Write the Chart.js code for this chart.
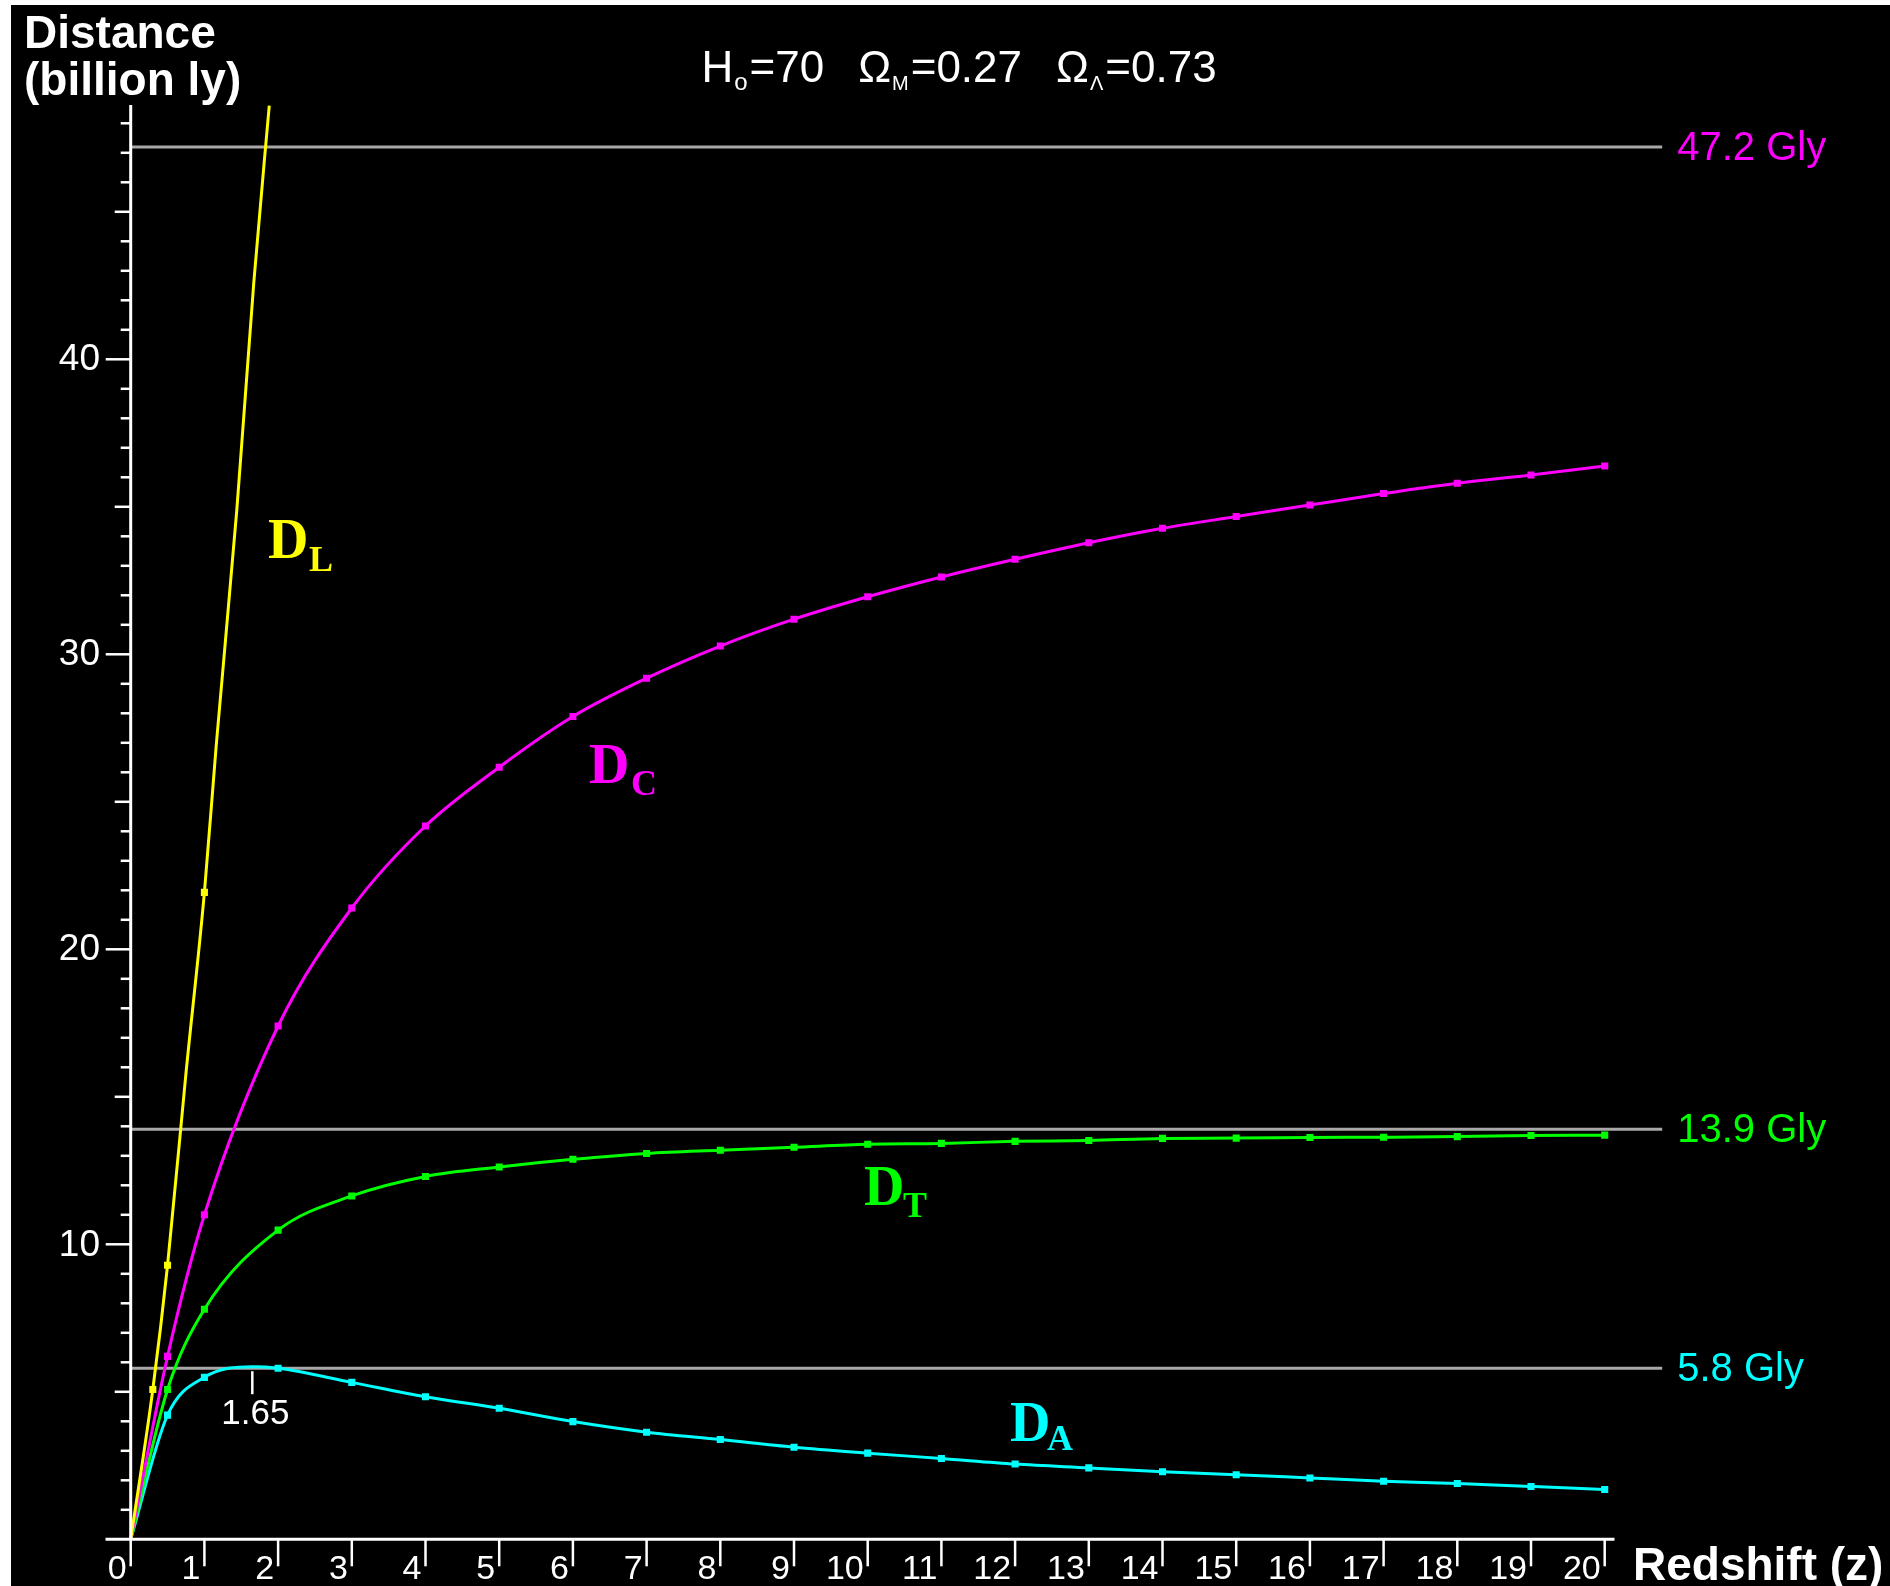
<!DOCTYPE html>
<html><head><meta charset="utf-8">
<script src="https://cdn.jsdelivr.net/npm/chart.js@4/dist/chart.umd.min.js"></script>
<style>html,body{margin:0;padding:0;background:#fff;overflow:hidden}canvas{display:block}</style>
</head><body>
<canvas id="c" width="1890" height="1586" style="width:1890px;height:1586px"></canvas>
<script>
// ---- data ----
const zLum = [0, 0.3, 0.5, 0.75, 1, 1.16, 1.44, 1.67, 1.88];
const dLum = [0, 5.08, 9.29, 15.8, 21.93, 26.9, 34.9, 42.6, 48.6];

const zCom = [0, 0.5, 1, 2, 3, 4, 5, 6, 7, 8, 9, 10, 11, 12, 13, 14, 15, 16, 17, 18, 19, 20];
const dCom = [0, 6.2, 11.0, 17.4, 21.4, 24.18, 26.17, 27.89, 29.19, 30.28, 31.19, 31.95, 32.62, 33.22, 33.78, 34.27, 34.67, 35.06, 35.45, 35.8, 36.08, 36.38];

const zTrav = [0, 0.5, 1, 2, 3, 4, 5, 6, 7, 8, 9, 10, 11, 12, 13, 14, 15, 16, 17, 18, 19, 20];
const dTrav = [0, 5.08, 7.8, 10.48, 11.64, 12.3, 12.62, 12.88, 13.08, 13.19, 13.29, 13.39, 13.42, 13.49, 13.52, 13.59, 13.6, 13.62, 13.63, 13.65, 13.69, 13.7];

const zAng = [0, 0.5, 1, 1.65, 2, 3, 4, 5, 6, 7, 8, 9, 10, 11, 12, 13, 14, 15, 16, 17, 18, 19, 20];
const dAng = [0, 4.21, 5.49, 5.85, 5.8, 5.32, 4.83, 4.44, 3.99, 3.63, 3.38, 3.12, 2.92, 2.74, 2.55, 2.42, 2.29, 2.19, 2.08, 1.97, 1.89, 1.79, 1.69];

const xTickValues = [0,1,2,3,4,5,6,7,8,9,10,11,12,13,14,15,16,17,18,19,20];
const yTickLabels = [10, 20, 30, 40];
const refValues = [47.2, 13.9, 5.8];
const refLabels = ['47.2 Gly', '13.9 Gly', '5.8 Gly'];
const peakZ = 1.65;
const peakLabel = '1.65';

// ---- styling ----
const YELLOW = '#ffff00', MAGENTA = '#ff00ff', GREEN = '#00ff00', CYAN = '#00ffff';
const refColors = [MAGENTA, GREEN, CYAN];
const SANS = '"Liberation Sans", Arial, sans-serif';
const SERIF = '"Liberation Serif", "Times New Roman", serif';

function pts(xs, ys) { return xs.map((x, i) => ({x: x, y: ys[i]})); }
function markerRadius(ctx) {
  const z = ctx.raw ? ctx.raw.x : 0;
  return (z > 0 && (Number.isInteger(z) || z === 0.5 || z === 0.3)) ? 5 : 0;
}
function ds(xs, ys, color) {
  return {
    data: pts(xs, ys), borderColor: color, backgroundColor: color,
    borderWidth: 3, showLine: true, cubicInterpolationMode: 'monotone',
    pointStyle: 'rect', pointRadius: markerRadius, pointHoverRadius: 0, pointBorderWidth: 0
  };
}

const decor = {
  id: 'decor',
  beforeDraw(chart) {
    const c = chart.ctx;
    c.save();
    c.fillStyle = '#ffffff'; c.fillRect(0, 0, chart.width, chart.height);
    c.fillStyle = '#000000'; c.fillRect(11, 5, chart.width - 11, chart.height - 5);
    c.restore();
  },
  beforeDatasetsDraw(chart) {
    const c = chart.ctx, xs = chart.scales.x, ys = chart.scales.y;
    c.save();
    c.strokeStyle = '#a8a8a8'; c.lineWidth = 3;
    const x0 = xs.getPixelForValue(0), x1 = xs.getPixelForValue(20.78);
    refValues.forEach((v, i) => {
      const y = ys.getPixelForValue(v);
      c.beginPath(); c.moveTo(x0, y); c.lineTo(x1, y); c.stroke();
      c.fillStyle = refColors[i];
      c.font = '40px ' + SANS; c.textAlign = 'left'; c.textBaseline = 'middle';
      c.fillText(refLabels[i], x1 + 15, y + 2);
    });
    c.restore();
  },
  afterDatasetsDraw(chart) {
    const c = chart.ctx, xs = chart.scales.x, ys = chart.scales.y, a = chart.chartArea;
    const X0 = xs.getPixelForValue(0), Y0 = ys.getPixelForValue(0);
    c.save();
    c.strokeStyle = '#ffffff'; c.fillStyle = '#ffffff';
    // axes
    c.lineWidth = 3;
    c.beginPath(); c.moveTo(a.left, Y0); c.lineTo(a.right, Y0); c.stroke();
    c.beginPath(); c.moveTo(X0, Y0); c.lineTo(X0, a.top); c.stroke();
    // y ticks
    c.lineWidth = 2.5;
    for (let v = 1; v <= Math.floor(ys.max); v++) {
      const len = v % 10 === 0 ? 25 : (v % 5 === 0 ? 16 : 10);
      const y = ys.getPixelForValue(v);
      c.beginPath(); c.moveTo(X0 - len, y); c.lineTo(X0, y); c.stroke();
    }
    c.font = '37px ' + SANS; c.textAlign = 'right'; c.textBaseline = 'middle';
    yTickLabels.forEach(v => c.fillText(String(v), 100, ys.getPixelForValue(v) + 1));
    // x ticks
    c.font = '34px ' + SANS; c.textBaseline = 'alphabetic';
    xTickValues.forEach(z => {
      const x = xs.getPixelForValue(z);
      c.beginPath(); c.moveTo(x, Y0); c.lineTo(x, Y0 + 27); c.stroke();
      c.textAlign = 'right';
      c.fillText(String(z), x - 4, Y0 + 40);
    });
    // peak marker
    const xp = xs.getPixelForValue(peakZ), yp = ys.getPixelForValue(refValues[2]);
    c.lineWidth = 2.5;
    c.beginPath(); c.moveTo(xp, yp + 3); c.lineTo(xp, yp + 26); c.stroke();
    c.font = '35px ' + SANS; c.textAlign = 'center'; c.textBaseline = 'alphabetic';
    c.fillText(peakLabel, xp + 3, yp + 56);
    // axis titles
    c.font = 'bold 46px ' + SANS; c.textAlign = 'left';
    c.fillText('Distance', 24, 48);
    c.fillText('(billion ly)', 24, 95);
    c.fillText('Redshift (z)', 1633, 1580);
    // title, laid out piece by piece and centred
    const big = '44px ' + SANS, sub = '24px ' + SANS, sub2 = '20px ' + SANS;
    const parts = [
      ['H', big, 0, 0], ['o', sub, 8, 1], ['=70', big, 0, 2], [null, null, 0, 34],
      ['\u03A9', big, 0, 0], ['M', sub2, 8, 1], ['=0.27', big, 0, 2], [null, null, 0, 34],
      ['\u03A9', big, 0, 0], ['\u039B', sub2, 8, 1], ['=0.73', big, 0, 2]
    ];
    let total = 0;
    parts.forEach(p => { if (p[0]) { c.font = p[1]; p.w = c.measureText(p[0]).width; } else p.w = 0; total += p.w + p[3]; });
    let x = 959 - total / 2;
    c.textAlign = 'left';
    parts.forEach(p => {
      x += p[3];
      if (p[0]) { c.font = p[1]; c.fillText(p[0], x, 82 + p[2]); }
      x += p.w;
    });
    // series labels
    const lab = [
      [YELLOW, 'L', 268, 558, 309, 571],
      [MAGENTA, 'C', 589, 783, 631, 795],
      [GREEN, 'T', 864, 1205, 903, 1217],
      [CYAN, 'A', 1010, 1441, 1047, 1450]
    ];
    lab.forEach(l => {
      c.fillStyle = l[0];
      c.font = 'bold 56px ' + SERIF; c.fillText('D', l[2], l[3]);
      c.font = 'bold 36px ' + SERIF; c.fillText(l[1], l[4], l[5]);
    });
    c.restore();
  }
};

new Chart(document.getElementById('c'), {
  type: 'scatter',
  data: { datasets: [
    ds(zLum, dLum, YELLOW),
    ds(zCom, dCom, MAGENTA),
    ds(zTrav, dTrav, GREEN),
    ds(zAng, dAng, CYAN)
  ]},
  options: {
    responsive: false, animation: false, devicePixelRatio: 1,
    layout: { padding: { left: 105.5, right: 275.5, top: 105, bottom: 46.7 } },
    plugins: { legend: { display: false }, tooltip: { enabled: false } },
    scales: {
      x: { type: 'linear', min: -0.342, max: 20.133, display: false },
      y: { type: 'linear', min: 0, max: 48.62, display: false }
    }
  },
  plugins: [decor]
});
</script>
</body></html>
